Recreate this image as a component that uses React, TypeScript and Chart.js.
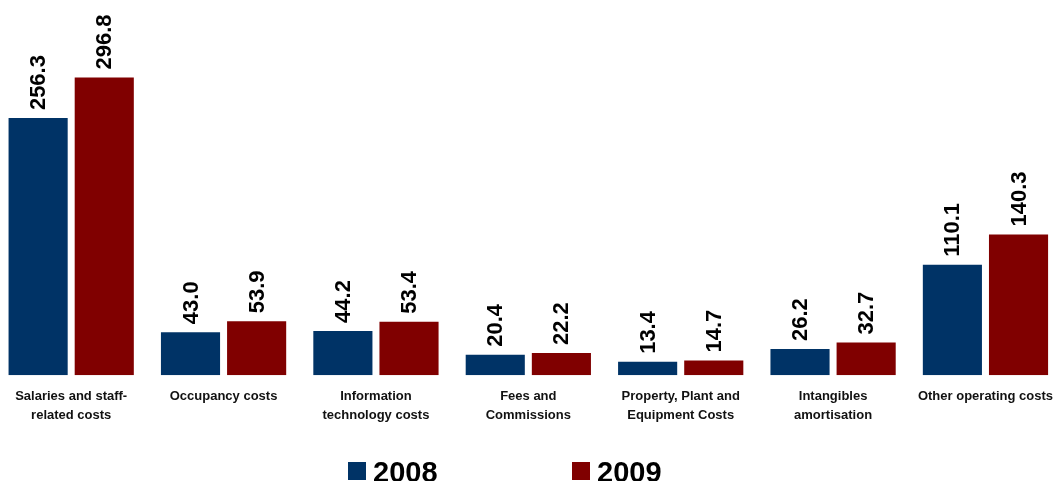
import React, { useEffect, useRef } from "react";
import { Chart, registerables } from "chart.js";

Chart.register(...registerables);

const categories: string[][] = [
  ["Salaries and staff-", "related costs"],
  ["Occupancy costs"],
  ["Information", "technology costs"],
  ["Fees and", "Commissions"],
  ["Property, Plant and", "Equipment Costs"],
  ["Intangibles", "amortisation"],
  ["Other operating costs"],
];
const seriesNames = ["2008", "2009"];
const values2008 = [256.3, 43.0, 44.2, 20.4, 13.4, 26.2, 110.1];
const values2009 = [296.8, 53.9, 53.4, 22.2, 14.7, 32.7, 140.3];
const colors = ["#003366", "#800000"];

const FONT = "'Liberation Sans', Arial, sans-serif";

const valueLabels = {
  id: "valueLabels",
  afterDatasetsDraw(chart: any) {
    const ctx = chart.ctx;
    ctx.save();
    ctx.fillStyle = "#000";
    ctx.font = `bold 22px ${FONT}`;
    ctx.textAlign = "left";
    ctx.textBaseline = "middle";
    chart.data.datasets.forEach((ds: any, di: number) => {
      const meta = chart.getDatasetMeta(di);
      meta.data.forEach((bar: any, i: number) => {
        const v = ds.data[i] as number;
        ctx.save();
        ctx.translate(bar.x, bar.y - 8);
        ctx.rotate(-Math.PI / 2);
        ctx.fillText(v.toFixed(1), 0, 1);
        ctx.restore();
      });
    });
    ctx.restore();
  },
};

const customLegend = {
  id: "customLegend",
  afterDraw(chart: any) {
    const ctx = chart.ctx;
    const cx = chart.width / 2;
    ctx.save();
    ctx.font = `bold 29px ${FONT}`;
    ctx.textAlign = "left";
    ctx.textBaseline = "alphabetic";
    chart.data.datasets.forEach((ds: any, i: number) => {
      const x = cx - 182 + i * 224;
      ctx.fillStyle = ds.backgroundColor;
      ctx.fillRect(x, 462, 18, 18);
      ctx.fillStyle = "#000";
      ctx.fillText(ds.label, x + 25, 482);
    });
    ctx.restore();
  },
};

export default function App() {
  const ref = useRef<HTMLCanvasElement>(null);
  useEffect(() => {
    if (!ref.current) return;
    const chart = new Chart(ref.current, {
      type: "bar",
      data: {
        labels: categories,
        datasets: [
          { label: seriesNames[0], data: values2008, backgroundColor: colors[0] },
          { label: seriesNames[1], data: values2009, backgroundColor: colors[1] },
        ],
      },
      options: {
        animation: false,
        responsive: true,
        maintainAspectRatio: false,
        datasets: { bar: { categoryPercentage: 0.868, barPercentage: 0.894 } } as any,
        layout: { padding: { top: 4, bottom: 44, left: 0, right: 0 } },
        plugins: {
          legend: { display: false },
          tooltip: { enabled: false },
        },
        scales: {
          x: {
            grid: { display: false, drawTicks: false },
            border: { display: false },
            ticks: {
              color: "#111",
              padding: 12,
              maxRotation: 0,
              autoSkip: false,
              font: { family: FONT, size: 13, weight: "bold", lineHeight: 1.45 },
            },
          },
          y: { display: false, min: 0, max: 370 },
        },
      },
      plugins: [valueLabels, customLegend],
    });
    return () => chart.destroy();
  }, []);
  return (
    <div style={{ position: "fixed", left: -5, top: 0, width: 1070, height: 481, background: "#fff" }}>
      <canvas ref={ref} />
    </div>
  );
}
